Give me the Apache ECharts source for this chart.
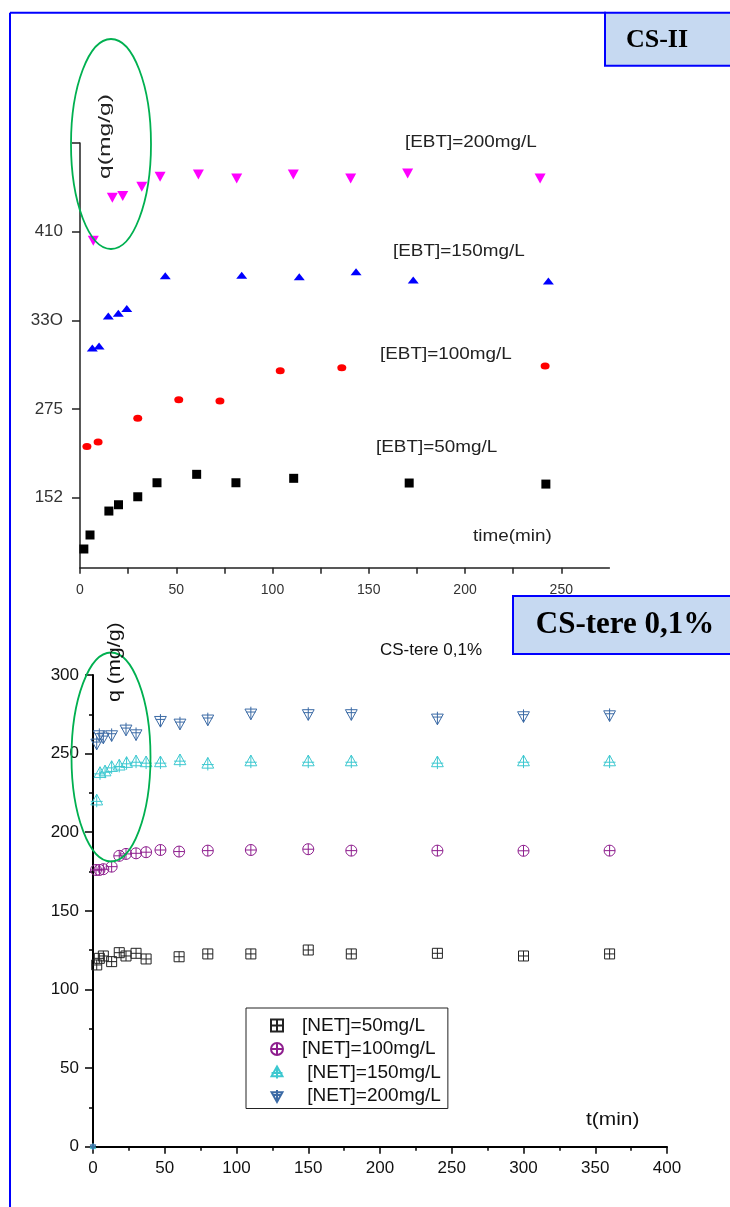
<!DOCTYPE html>
<html><head><meta charset="utf-8">
<script src="https://cdn.jsdelivr.net/npm/echarts@6/dist/echarts.min.js"></script>
<style>html,body{margin:0;padding:0;background:#fff}#c{width:730px;height:1207px}</style>
</head><body><div id="c"></div>
<script>
// ---------- Top panel (CS-II) ----------
// The printed y axis is non-linear (152, 275, 33O, 410 evenly spaced),
// so values are given in axis-position units where those labels sit at 0,100,200,300.
const topYTickPos = [0, 100, 200, 300];
const topYTickLabels = ['152', '275', '33O', '410'];
const topXLabelValues = [0, 50, 100, 150, 200, 250];
const topXTickValues = [0, 25, 50, 75, 100, 125, 150, 175, 200, 225, 250];
const topNames = ['[EBT]=50mg/L', '[EBT]=100mg/L', '[EBT]=150mg/L', '[EBT]=200mg/L'];

const topT50 = [2, 5.2, 15, 20, 30, 40, 60.6, 81, 111, 171, 242];
const topY50 = [-57.8, -42, -15, -7.9, 1.1, 16.9, 26.4, 16.9, 21.9, 16.6, 15.4];
const topT100 = [3.6, 9.4, 30, 51.3, 72.7, 104, 136, 241.6];
const topY100 = [57.9, 62.8, 89.5, 110.5, 109, 143.2, 146.6, 148.5];
const topT150 = [6.4, 9.9, 14.7, 19.9, 24.3, 44.3, 84, 113.9, 143.4, 173.1, 243.3];
const topY150 = [168.8, 171, 204.8, 207.9, 213.5, 250.3, 251, 249.2, 254.8, 245.4, 244.3];
const topT200 = [6.9, 16.8, 22.2, 32.1, 41.6, 61.5, 81.4, 110.8, 140.6, 170.2, 239];
const topY200 = [289.7, 338.2, 340.1, 350.6, 361.9, 364.6, 360.1, 364.6, 360.1, 365.7, 360.1];

// ---------- Bottom panel (CS-tere 0,1%) ----------
const botNames = ['[NET]=50mg/L', '[NET]=100mg/L', ' [NET]=150mg/L', ' [NET]=200mg/L'];
const botT50 = [2.6, 4.4, 7.2, 13, 18.3, 23, 30, 37, 60, 80, 110, 150, 180, 240, 300, 360];
const botQ50 = [115.6, 119.8, 121.3, 117.7, 123.4, 121.3, 123, 119.4, 120.8, 122.6, 122.6, 125.1, 122.6, 123, 121.3, 122.6];
const botT100 = [2.1, 4.5, 7.2, 13, 18.3, 23, 30, 37, 47, 60, 80, 110, 150, 180, 240, 300, 360];
const botQ100 = [176, 176, 176.5, 178.1, 185, 186.2, 186.6, 187.3, 188.7, 187.7, 188.3, 188.7, 189.2, 188.3, 188.3, 188.2, 188.3];
const botT150 = [0, 2.6, 4.9, 8.4, 13, 18.3, 23.4, 30, 37, 47, 60.6, 80, 110, 150, 180, 240, 300, 360];
const botQ150 = [0, 220, 237.5, 238.5, 241.3, 242.2, 243.9, 244.9, 244.3, 244.3, 245.6, 243.4, 244.9, 244.9, 244.9, 244.3, 244.9, 244.9];
const botT200 = [0, 2.6, 4.4, 7.2, 13, 23, 30, 47, 60.6, 80, 110, 150, 180, 240, 300, 360];
const botQ200 = [0, 256.6, 261.9, 260.4, 261.9, 265.5, 262.5, 271, 269.3, 271.9, 275.7, 275.3, 275.3, 272.5, 274, 274.6];

function pairs(xs, ys) { return xs.map((x, i) => [x, ys[i]]); }

const SQ_PLUS = 'path://M0,0L10,0L10,10L0,10Z M5,0L5,10 M0,5L10,5';
const CI_PLUS = 'path://M10,5A5,5,0,1,1,0,5A5,5,0,1,1,10,5Z M5,0L5,10 M0,5L10,5';
const TRI_UP = 'path://M5,0L10,9L0,9Z M5,0L5,11 M0,6L10,6';
const TRI_DN = 'path://M0,2L10,2L5,11Z M5,0L5,11 M1,4.5L9,4.5';

function topSeries(name, data, symbol, size, color, rot) {
  return { name, type: 'scatter', xAxisIndex: 0, yAxisIndex: 0, data, symbol, symbolSize: size,
    symbolRotate: rot || 0, itemStyle: { color, opacity: 1 }, emphasis: { disabled: true }, silent: true };
}
function botSeries(name, data, symbol, size, color) {
  return { name, type: 'scatter', xAxisIndex: 1, yAxisIndex: 1, data, symbol,
    symbolSize: (v) => (v[0] === 0 && v[1] === 0 ? 6 : size), symbolKeepAspect: true,
    itemStyle: { color: 'rgba(255,255,255,0)', borderColor: color, borderWidth: 1, opacity: 1 },
    emphasis: { disabled: true }, silent: true };
}

const AX = '#222';
const chart = echarts.init(document.getElementById('c'));
function txt(text, x, y, font, fill, align, extra) {
  return Object.assign({
    type: 'text', x, y, z: 100,
    style: { text, font, fill, align, verticalAlign: 'middle', textAlign: align, textVerticalAlign: 'middle' }
  }, extra || {});
}

chart.setOption({
  animation: false,
  backgroundColor: '#fff',
  grid: [
    { left: 80, top: 143, width: 529.4, height: 424.8 },
    { left: 93, top: 675, width: 574, height: 471.7 }
  ],
  xAxis: [
    { gridIndex: 0, type: 'value', min: 0, max: 275,
      axisLine: { show: true, onZero: false, lineStyle: { color: AX, width: 1.5 } },
      axisTick: { show: true, customValues: topXTickValues, length: 6, lineStyle: { color: AX, width: 1.5 } },
      axisLabel: { customValues: topXLabelValues, margin: 15, fontSize: 14, color: '#333', fontFamily: 'Liberation Sans' },
      splitLine: { show: false } },
    { gridIndex: 1, type: 'value', min: 0, max: 400, interval: 50,
      axisLine: { show: true, onZero: false, lineStyle: { color: '#000', width: 2 } },
      axisTick: { show: true, length: 7, lineStyle: { color: '#000', width: 1.5 } },
      minorTick: { show: true, splitNumber: 2, length: 4, lineStyle: { color: '#000', width: 1.5 } },
      axisLabel: { margin: 13, fontSize: 17, color: '#111', fontFamily: 'Liberation Sans' },
      splitLine: { show: false } }
  ],
  yAxis: [
    { gridIndex: 0, type: 'value', min: -79, max: 400,
      axisLine: { show: true, onZero: false, lineStyle: { color: AX, width: 1.5 } },
      axisTick: { show: true, customValues: [0, 100, 200, 300, 400], length: 8, lineStyle: { color: AX, width: 1.5 } },
      axisLabel: { customValues: topYTickPos, margin: 17, fontSize: 17, color: '#333', fontFamily: 'Liberation Sans',
        formatter: (v) => { const i = topYTickPos.indexOf(v); return i >= 0 ? topYTickLabels[i] : ''; } },
      splitLine: { show: false } },
    { gridIndex: 1, type: 'value', min: 0, max: 300, interval: 50,
      axisLine: { show: true, onZero: false, lineStyle: { color: '#000', width: 2 } },
      axisTick: { show: true, length: 8, lineStyle: { color: '#000', width: 1.5 } },
      minorTick: { show: true, splitNumber: 2, length: 4, lineStyle: { color: '#000', width: 1.5 } },
      axisLabel: { margin: 14, fontSize: 17, color: '#111', fontFamily: 'Liberation Sans' },
      splitLine: { show: false } }
  ],
  legend: {
    orient: 'vertical', left: 246, top: 1008, padding: [8, 7, 3, 24], itemGap: 4.5,
    itemWidth: 40, itemHeight: 12, borderColor: '#222', borderWidth: 1, selectedMode: false,
    textStyle: { fontSize: 19, fontFamily: 'Liberation Sans', color: '#111', lineHeight: 19 },
    data: botNames
  },
  series: [
    topSeries(topNames[0], pairs(topT50, topY50), 'rect', 9, '#000000'),
    topSeries(topNames[1], pairs(topT100, topY100), 'circle', [9, 7], '#ff0000'),
    topSeries(topNames[2], pairs(topT150, topY150), 'triangle', [11, 7], '#0000ff'),
    topSeries(topNames[3], pairs(topT200, topY200), 'triangle', [11, 10], '#ff00ff', 180),
    botSeries(botNames[0], pairs(botT50, botQ50), SQ_PLUS, 10, '#222222'),
    botSeries(botNames[1], pairs(botT100, botQ100), CI_PLUS, 11, '#8e1e8e'),
    botSeries(botNames[2], pairs(botT150, botQ150), TRI_UP, 13, '#3cc8d0'),
    botSeries(botNames[3], pairs(botT200, botQ200), TRI_DN, 13, '#3b6aa5')
  ],
  graphic: { elements: [
    // outer blue frame
    { type: 'line', shape: { x1: 10, y1: 12.7, x2: 606, y2: 12.7 }, style: { stroke: '#0000ff', lineWidth: 2 }, z: 90 },
    { type: 'line', shape: { x1: 10, y1: 12.7, x2: 10, y2: 1207 }, style: { stroke: '#0000ff', lineWidth: 2 }, z: 90 },
    // labelled boxes
    { type: 'rect', shape: { x: 605, y: 12.7, width: 130, height: 53 }, style: { fill: '#c6d9f1', stroke: '#0000ff', lineWidth: 2 }, z: 90 },
    txt('CS-II', 657, 40, 'bold 26px "Liberation Serif"', '#000', 'center'),
    { type: 'rect', shape: { x: 513, y: 596, width: 220, height: 58 }, style: { fill: '#c6d9f1', stroke: '#0000ff', lineWidth: 2 }, z: 90 },
    txt('CS-tere 0,1%', 625, 625, 'bold 31px "Liberation Serif"', '#000', 'center'),
    // green ellipses
    { type: 'ellipse', shape: { cx: 111, cy: 144, rx: 40, ry: 105 }, style: { fill: 'none', stroke: '#00b050', lineWidth: 1.8 }, z: 95 },
    { type: 'ellipse', shape: { cx: 111, cy: 757, rx: 39.5, ry: 104.5 }, style: { fill: 'none', stroke: '#00b050', lineWidth: 1.8 }, z: 95 },
    // top panel annotations
    txt(topNames[3], 405, 143, '16px "Liberation Sans"', '#222', 'left', { scaleX: 1.18 }),
    txt(topNames[2], 393, 252, '16px "Liberation Sans"', '#222', 'left', { scaleX: 1.18 }),
    txt(topNames[1], 380, 355, '16px "Liberation Sans"', '#222', 'left', { scaleX: 1.18 }),
    txt(topNames[0], 376, 448, '16px "Liberation Sans"', '#222', 'left', { scaleX: 1.18 }),
    txt('time(min)', 473, 537, '16px "Liberation Sans"', '#222', 'left', { scaleX: 1.18 }),
    txt('q(mg/g)', 105, 179, '17px "Liberation Sans"', '#222', 'left', { scaleX: 1.45, rotation: Math.PI / 2 }),
    // bottom panel texts
    txt('CS-tere 0,1%', 431, 650, '17px "Liberation Sans"', '#111', 'center'),
    txt('q (mg/g)', 115, 702, '18px "Liberation Sans"', '#111', 'left', { scaleX: 1.19, rotation: Math.PI / 2 }),
    txt('t(min)', 586, 1120, '19px "Liberation Sans"', '#111', 'left', { scaleX: 1.1 })
  ] }
});
</script>
</body></html>
